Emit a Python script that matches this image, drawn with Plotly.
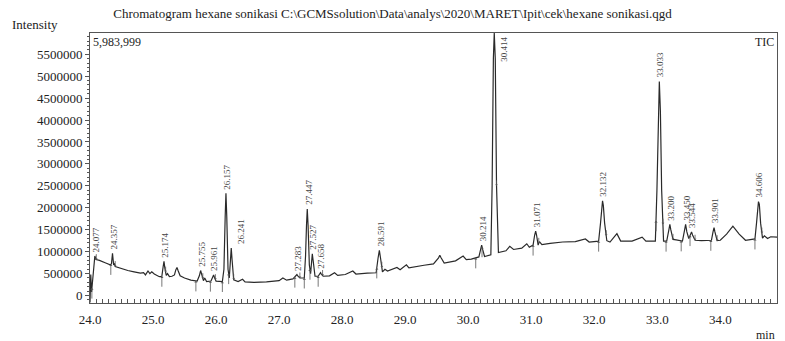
import numpy as np
import plotly.graph_objects as go

# Total ion chromatogram, retention time (min) vs intensity
rt = [
    24.000, 24.012, 24.025, 24.040, 24.060, 24.077, 24.095, 24.15, 24.25, 24.32,
    24.340, 24.357, 24.375, 24.39, 24.40, 24.5, 24.6, 24.7, 24.8, 24.85,
    24.88, 24.92, 24.95, 24.98, 25.02, 25.1, 25.14, 25.160, 25.174, 25.188, 25.21, 25.23,
    25.26, 25.30, 25.34, 25.36, 25.38, 25.40, 25.43, 25.5, 25.6, 25.70, 25.735, 25.755, 25.775, 25.80,
    25.82, 25.85, 25.92, 25.945, 25.961, 25.975, 26.00, 26.10, 26.125, 26.145, 26.157, 26.170, 26.19, 26.21,
    26.228, 26.241, 26.255, 26.28, 26.35, 26.42, 26.46, 26.6, 26.8, 27.0,
    27.06, 27.12, 27.22, 27.265, 27.283, 27.30, 27.33, 27.40, 27.42, 27.435, 27.447, 27.46, 27.48, 27.50,
    27.515, 27.527, 27.54, 27.57, 27.62, 27.645, 27.658, 27.67, 27.70, 27.8, 27.88, 27.93, 28.05, 28.17,
    28.22, 28.4, 28.54, 28.570, 28.591, 28.610, 28.64, 28.68, 28.72, 28.87, 28.92, 29.02,
    29.06, 29.3, 29.45, 29.53, 29.55, 29.57, 29.62, 29.8, 29.92, 29.97, 30.05, 30.17,
    30.20, 30.214, 30.23, 30.26, 30.36, 30.38, 30.40, 30.414, 30.43, 30.45, 30.48, 30.55, 30.60, 30.66,
    30.72, 30.85, 30.93, 30.97, 31.03, 31.055, 31.071, 31.085, 31.11, 31.13, 31.17, 31.3,
    31.5, 31.7, 31.86, 31.92, 32.07, 32.10, 32.12, 32.132, 32.145, 32.165, 32.20, 32.25,
    32.36, 32.42, 32.6, 32.76, 32.82, 32.97, 32.995, 33.015, 33.033, 33.05, 33.07, 33.10,
    33.15, 33.185, 33.200, 33.215, 33.25, 33.30, 33.40, 33.435, 33.450, 33.47, 33.50, 33.530, 33.544, 33.56, 33.60, 33.7,
    33.86, 33.885, 33.901, 33.915, 33.95, 34.0, 34.1, 34.2, 34.3, 34.4, 34.5, 34.55,
    34.575, 34.595, 34.606, 34.62, 34.64, 34.67, 34.70, 34.75, 34.8, 34.9,
]
intensity = [
    -160000, 480000, 80000, 350000, 600000, 900000, 820000, 800000, 740000, 700000,
    720000, 960000, 700000, 720000, 660000, 610000, 570000, 540000, 510000, 520000,
    470000, 560000, 500000, 540000, 490000, 430000, 440000, 650000, 780000, 620000, 460000, 500000,
    430000, 440000, 470000, 580000, 640000, 560000, 450000, 400000, 350000, 330000, 450000, 570000, 450000, 340000,
    400000, 320000, 330000, 420000, 470000, 410000, 330000, 320000, 600000, 1800000, 2330000, 1800000, 600000, 400000,
    800000, 1080000, 800000, 360000, 320000, 370000, 310000, 300000, 310000, 340000,
    400000, 350000, 380000, 440000, 480000, 440000, 400000, 400000, 900000, 1600000, 1970000, 1600000, 700000, 500000,
    800000, 950000, 800000, 440000, 440000, 500000, 520000, 490000, 440000, 450000, 520000, 460000, 480000, 560000,
    490000, 510000, 520000, 850000, 1030000, 850000, 540000, 600000, 560000, 640000, 590000, 700000,
    630000, 690000, 720000, 860000, 920000, 860000, 740000, 790000, 900000, 820000, 830000, 880000,
    1050000, 1150000, 1050000, 890000, 930000, 2500000, 5400000, 5983999, 5400000, 2500000, 980000, 1000000, 1020000, 1120000,
    1050000, 1080000, 1180000, 1100000, 1150000, 1380000, 1470000, 1380000, 1150000, 1230000, 1160000, 1190000,
    1220000, 1230000, 1290000, 1220000, 1240000, 1650000, 2050000, 2160000, 2050000, 1650000, 1250000, 1220000,
    1410000, 1240000, 1240000, 1330000, 1240000, 1240000, 2400000, 4200000, 4880000, 4200000, 2400000, 1240000,
    1240000, 1500000, 1620000, 1500000, 1280000, 1270000, 1240000, 1500000, 1620000, 1450000, 1300000, 1400000, 1450000, 1380000, 1260000, 1250000,
    1260000, 1450000, 1550000, 1450000, 1250000, 1260000, 1400000, 1580000, 1400000, 1260000, 1270000, 1290000,
    1650000, 2080000, 2140000, 2080000, 1650000, 1310000, 1360000, 1300000, 1340000, 1330000,
]

# Identified peaks (retention time labels)
peak_rt = [24.077, 24.357, 25.174, 25.755, 25.961, 26.157, 26.241, 27.283,
           27.447, 27.527, 27.658, 28.591, 30.214, 30.414, 31.071, 32.132,
           33.033, 33.200, 33.450, 33.544, 33.901, 34.606]
label_nudge = {26.241: 8}

# Integration start / end markers
start_rt = [24.03, 24.33, 25.14, 25.68, 25.91, 26.10, 26.20, 27.25, 27.40,
            27.49, 27.62, 28.55, 30.12, 30.22, 31.03, 32.07, 32.98, 33.14,
            33.38, 33.52, 33.85, 34.55]
end_rt = [24.10, 24.40, 25.20, 25.79, 25.99, 26.28, 27.33, 27.69, 28.63,
          30.45, 31.12, 32.19, 33.09, 33.25, 33.60, 33.95, 34.66]

y_top = 5983999
y_bottom = -170000

fig = go.Figure()
fig.add_trace(go.Scatter(
    x=rt, y=intensity, mode="lines",
    line=dict(color="#2a2a2a", width=1.2),
    hoverinfo="skip",
))

serif = "Liberation Serif, Times New Roman, serif"
ink = "#222222"
annotations = []
for p in peak_rt:
    h = float(np.interp(p, rt, intensity))
    if h >= y_top:
        annotations.append(dict(
            x=p, y=y_top, xref="x", yref="y", text=f"{p:.3f}",
            textangle=-90, showarrow=False, xanchor="center", yanchor="top",
            xshift=9, yshift=-2, font=dict(family=serif, size=9, color="#444444")))
    else:
        annotations.append(dict(
            x=p, y=h, xref="x", yref="y", text=f"{p:.3f}",
            textangle=-90, showarrow=False, xanchor="center", yanchor="bottom",
            xshift=1 + label_nudge.get(p, 0), yshift=2,
            font=dict(family=serif, size=9, color="#444444")))

for s in start_rt:
    annotations.append(dict(
        x=s, y=float(np.interp(s, rt, intensity)), xref="x", yref="y", text="",
        showarrow=True, arrowhead=1, arrowsize=0.7, arrowwidth=0.8,
        arrowcolor="#555555", ax=0, ay=12, axref="pixel", ayref="pixel"))
for e in end_rt:
    annotations.append(dict(
        x=e, y=float(np.interp(e, rt, intensity)), xref="x", yref="y", text="",
        showarrow=True, arrowhead=1, arrowsize=0.6, arrowwidth=0.8,
        arrowcolor="#555555", ax=0, ay=-7, axref="pixel", ayref="pixel"))

# Frame texts
annotations += [
    dict(x=-0.116, y=1, xref="paper", yref="paper", xanchor="left", yanchor="bottom", yshift=-1,
         text="Intensity", showarrow=False, font=dict(family=serif, size=13, color=ink)),
    dict(x=0, y=1, xref="paper", yref="paper", xanchor="left", yanchor="top", xshift=1,
         text="5,983,999", showarrow=False, font=dict(family=serif, size=12, color=ink)),
    dict(x=1, y=1, xref="paper", yref="paper", xanchor="right", yanchor="top", xshift=-1,
         text="TIC", showarrow=False, font=dict(family=serif, size=12, color=ink)),
    dict(x=1, y=0, xref="paper", yref="paper", xanchor="right", yanchor="top", yshift=-23,
         text="min", showarrow=False, font=dict(family=serif, size=12, color=ink)),
]

xticks = [24.0, 25.0, 26.0, 27.0, 28.0, 29.0, 30.0, 31.0, 32.0, 33.0, 34.0, 34.9]
yticks = list(range(0, 5500001, 500000))

fig.update_layout(
    width=785, height=341,
    margin=dict(l=90, r=8, t=33, b=38),
    paper_bgcolor="white", plot_bgcolor="white",
    showlegend=False,
    title=dict(
        text="Chromatogram hexane sonikasi C:\\GCMSsolution\\Data\\analys\\2020\\MARET\\Ipit\\cek\\hexane sonikasi.qgd",
        x=0.5, xref="container", xanchor="center",
        y=1 - 13 / 341, yref="container", yanchor="middle",
        font=dict(family=serif, size=13, color=ink)),
    annotations=annotations,
    font=dict(family=serif, size=13, color=ink),
    xaxis=dict(
        range=[24.0, 34.9], tickvals=xticks, ticktext=[f"{v:.1f}" for v in xticks],
        ticks="inside", ticklen=4, tickcolor="#555555", ticklabelstandoff=4,
        minor=dict(dtick=0.1, ticks="inside", ticklen=4, tickcolor="#555555"),
        showline=True, linecolor="#555555", linewidth=1, mirror=True,
        showgrid=False, zeroline=False,
        tickfont=dict(family=serif, size=13, color=ink),
    ),
    yaxis=dict(
        range=[y_bottom, y_top], tickvals=yticks, ticktext=[str(v) for v in yticks],
        ticks="outside", ticklen=4, tickcolor="#555555",
        minor=dict(dtick=100000, tick0=0, ticks="outside", ticklen=2, tickcolor="#555555"),
        showline=True, linecolor="#555555", linewidth=1, mirror=True,
        showgrid=False, zeroline=False,
        tickfont=dict(family=serif, size=13, color=ink),
    ),
)

fig.write_html("out.html")
